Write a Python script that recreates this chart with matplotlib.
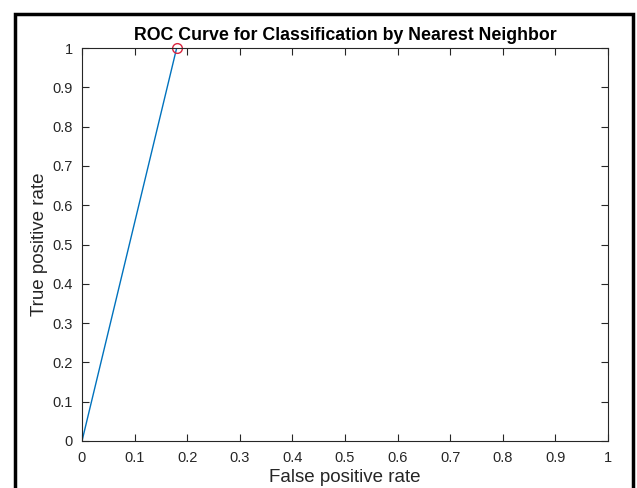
import numpy as np
import matplotlib.pyplot as plt
from matplotlib.patches import Rectangle

# ROC points
fpr = [0.0, 0.18, 1.0]
tpr = [0.0, 1.0, 1.0]
op_x = [0.18]
op_y = [1.0]

xticks = np.round(np.arange(0, 1.01, 0.1), 1)
yticks = np.round(np.arange(0, 1.01, 0.1), 1)

plt.rcParams['font.family'] = ['Liberation Sans', 'DejaVu Sans']

fig = plt.figure(figsize=(6.37, 4.88), dpi=100, facecolor='w')
ax = fig.add_axes([82/637, 1 - 441/488, 526/637, 393/488])

ax.plot(fpr, tpr, color=(0, 0.447, 0.741), lw=1.0)
ax.plot(op_x, op_y, 'o', mfc='none', mec=(0.85, 0.15, 0.25), ms=7, mew=1.0, clip_on=False)

ax.set_xlim(0, 1)
ax.set_ylim(0, 1)
ax.set_xticks(xticks)
ax.set_yticks(yticks)
lbl = lambda v: '0' if v == 0 else ('1' if v == 1 else f'{v:g}')
ax.set_xticklabels([lbl(v) for v in xticks])
ax.set_yticklabels([lbl(v) for v in yticks])

grey = (0.15, 0.15, 0.15)
for s in ax.spines.values():
    s.set_color(grey)
    s.set_linewidth(0.8)
ax.tick_params(direction='in', top=True, right=True, length=5, width=0.8,
               color=grey, labelcolor=grey, labelsize=10.5)
ax.tick_params(axis='x', pad=7.5)
ax.tick_params(axis='y', pad=6.5)

ax.set_xlabel('False positive rate', fontsize=13.5, color=grey, va='center')
ax.xaxis.set_label_coords(0.5, (441 - 477) / 393)
ax.set_ylabel('True positive rate', fontsize=13.5, color=grey, va='center')
ax.yaxis.set_label_coords((40 - 82) / 526, 0.5)
ax.set_title('ROC Curve for Classification by Nearest Neighbor', fontsize=12.8,
             fontweight='bold', pad=5.5)

# outer frame
fig.patches.append(Rectangle((15/637, -0.1), (633 - 15)/637, 1.1 - 14/488,
                             transform=fig.transFigure, fill=False, ec='k', lw=2.5))

fig.savefig('out.png', dpi=100)
